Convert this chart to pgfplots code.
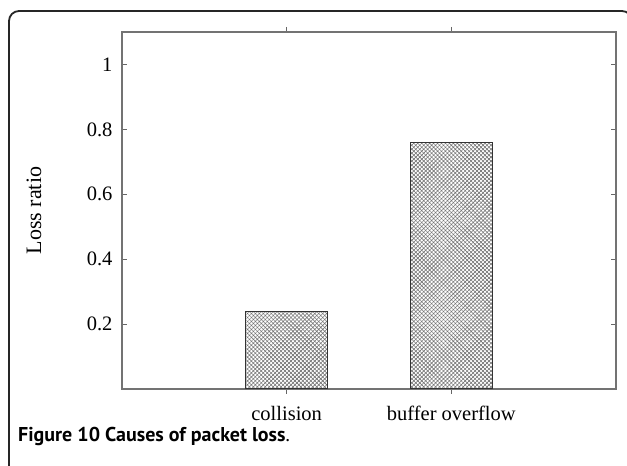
\documentclass[border=0pt]{standalone}
\usepackage{pgfplots}
\pgfplotsset{compat=1.18}
\usetikzlibrary{patterns.meta}
\usepackage{fontspec}
\setmainfont{Liberation Serif}
\newfontfamily\capfont{PT Sans}

\begin{document}
\begin{tikzpicture}
% page area
\useasboundingbox (0,0) rectangle (627pt,466pt);
% outer panel frame
\draw[line width=1.8pt, black!85, rounded corners=10pt] (9pt,-30pt) rectangle (632pt,455pt);

\begin{axis}[
  at={(122pt,77pt)}, anchor=south west,
  scale only axis, width=494pt, height=357pt,
  xmin=0, xmax=3, ymin=0, ymax=1.1,
  xtick={1,2}, xticklabels={collision, buffer overflow},
  ytick={0.2,0.4,0.6,0.8,1}, yticklabels={0.2,0.4,0.6,0.8,1},
  tick align=inside, major tick length=5pt,
  tick style={line width=1pt, black!60},
  axis line style={line width=1.3pt, black!55},
  tick label style={font=\fontsize{20.5}{24}\selectfont},
  /pgf/number format/assume math mode=true,
  yticklabel style={xshift=-6pt},
  xticklabel style={yshift=-9pt},
  every axis y label/.style={at={(axis description cs:-0.178,0.5)}, rotate=90, anchor=center},
  ylabel={Loss ratio},
  label style={font=\fontsize{22}{26}\selectfont},
  ybar, bar width=0.5,
]
\addplot[draw=black!80, line width=1.2pt, fill=white,
  postaction={pattern={Lines[angle=45,distance=2.8pt,line width=0.6pt]}, pattern color=black!55},
  postaction={pattern={Lines[angle=-45,distance=2.8pt,line width=0.6pt]}, pattern color=black!55}]
  coordinates {(1,0.24) (2,0.76)};
\end{axis}

% caption
\node[anchor=base west, inner sep=0pt] at (18pt,24pt)
  {\capfont\fontsize{20}{24}\selectfont\textbf{Figure 10 Causes of packet loss}.};
\end{tikzpicture}
\end{document}
